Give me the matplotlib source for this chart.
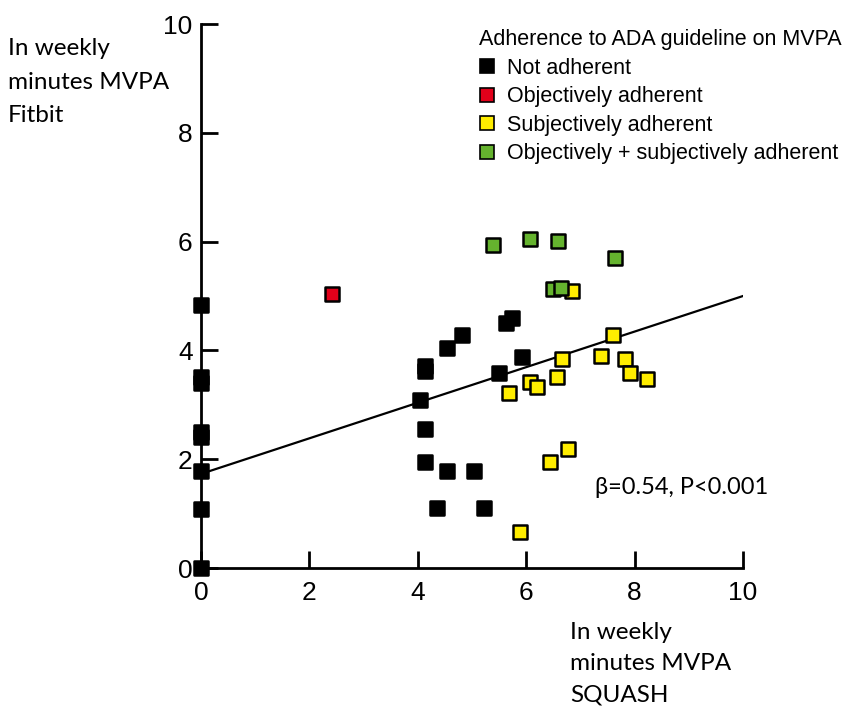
import matplotlib
matplotlib.use("Agg")
import matplotlib.pyplot as plt
from matplotlib.lines import Line2D

# ln weekly minutes MVPA: SQUASH (x) vs Fitbit (y)
not_x = [0, 0, 0, 0, 0, 0, 0, 0,
         4.13, 4.13, 4.53, 4.82, 5.63, 5.73, 5.92, 5.50, 4.04, 4.13, 4.13, 4.53, 5.04, 4.35, 5.22]
not_y = [0, 1.08, 1.79, 2.40, 2.50, 3.40, 3.51, 4.83,
         3.72, 3.62, 4.04, 4.28, 4.50, 4.60, 3.87, 3.58, 3.09, 2.56, 1.94, 1.79, 1.79, 1.10, 1.10]
obj_x = [2.41]
obj_y = [5.04]
subj_x = [6.84, 7.61, 6.66, 7.38, 7.82, 7.92, 8.22, 6.57, 6.07, 6.20, 5.69, 6.78, 6.43, 5.89]
subj_y = [5.10, 4.29, 3.85, 3.90, 3.85, 3.58, 3.47, 3.52, 3.42, 3.32, 3.21, 2.19, 1.94, 0.67]
both_x = [5.38, 6.07, 6.59, 7.63, 6.49, 6.65]
both_y = [5.93, 6.04, 6.02, 5.69, 5.13, 5.15]

intercept = 1.73
slope = 0.327
ticks = [0, 2, 4, 6, 8, 10]

groups = ["Not adherent", "Objectively adherent", "Subjectively adherent",
          "Objectively + subjectively adherent"]
colors = ["#000000", "#e2001a", "#ffed00", "#65b32e"]

plt.rcParams['font.family'] = ['Liberation Sans', 'DejaVu Sans']

fig = plt.figure(figsize=(8.49, 7.07), dpi=100)
ax = fig.add_axes([201 / 849, 1 - 568 / 707, 542 / 849, 544 / 707])

xs = [not_x, obj_x, subj_x, both_x]
ys = [not_y, obj_y, subj_y, both_y]
for x, y, c in zip(xs, ys, colors):
    ax.scatter(x, y, s=115, marker='s', c=c, edgecolors='black', linewidths=1.8,
               clip_on=False, zorder=4)

ax.plot([0, 10], [intercept, intercept + slope * 10], color='black', lw=1.6, zorder=3)

ax.set_xlim(0, 10)
ax.set_ylim(0, 10)
ax.set_xticks(ticks)
ax.set_yticks(ticks)
ax.tick_params(direction='in', length=12, width=2, labelsize=19)
ax.tick_params(axis='x', pad=9)
ax.tick_params(axis='y', pad=6)
for s in ['top', 'right']:
    ax.spines[s].set_visible(False)
for s in ['left', 'bottom']:
    ax.spines[s].set_linewidth(2)

title_font = ['Lato', 'DejaVu Sans']
fig.text(8 / 849, 1 - 38 / 707, "In weekly\nminutes MVPA\nFitbit", ha='left', va='top',
         fontsize=17.5, family=title_font, linespacing=1.75)
fig.text(570 / 849, 1 - 622 / 707, "In weekly\nminutes MVPA\nSQUASH", ha='left', va='top',
         fontsize=17.5, family=title_font, linespacing=1.6)
fig.text(595 / 849, 1 - 487 / 707, "β=0.54, P<0.001", ha='left', va='center',
         fontsize=17, family=title_font)

handles = [Line2D([], [], marker='s', ls='none', markersize=10, markerfacecolor=c,
                  markeredgecolor='black', markeredgewidth=1.2) for c in colors]
leg = ax.legend(handles, groups, title="Adherence to ADA guideline on MVPA",
                loc='upper left', bbox_to_anchor=(479 / 849, 1 - 29 / 707),
                bbox_transform=fig.transFigure, frameon=False, fontsize=15.5,
                title_fontsize=15.5, handlelength=0.7, handletextpad=0.6,
                labelspacing=0.35, borderpad=0, borderaxespad=0)
leg._legend_box.align = "left"

fig.savefig("out.png", dpi=100)
